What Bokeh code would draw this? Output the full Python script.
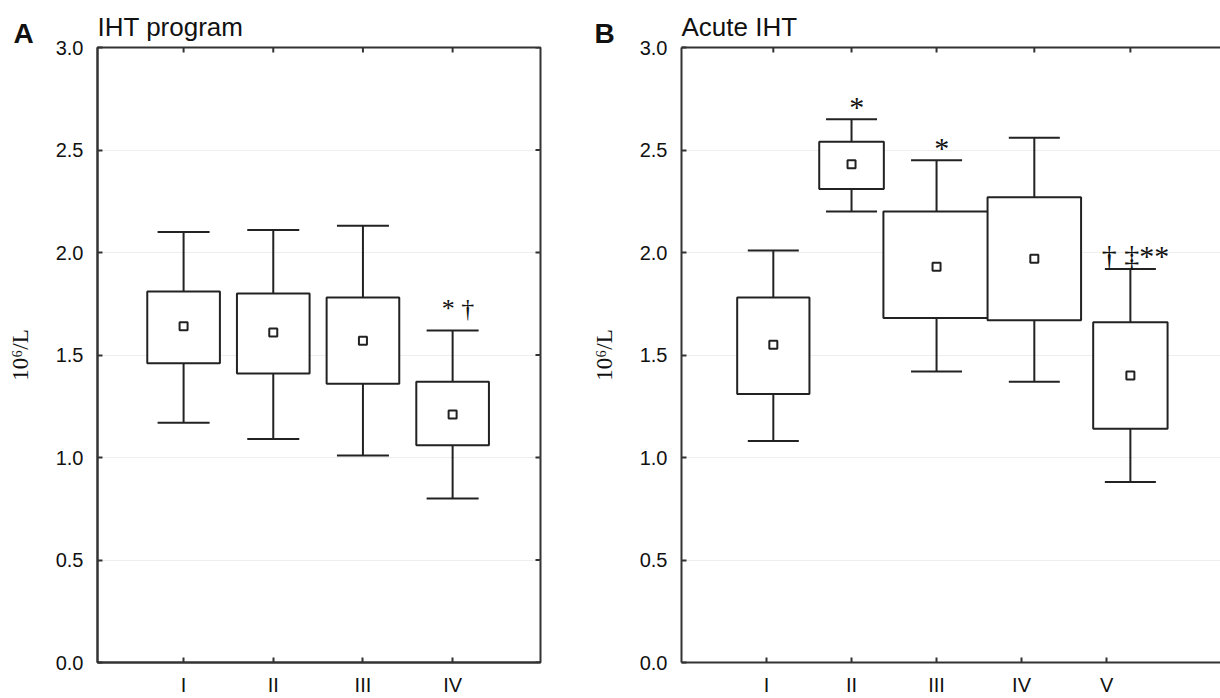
import math
from bokeh.plotting import figure
from bokeh.layouts import row
from bokeh.models import (FixedTicker, LinearAxis, Title, Range1d, ColumnDataSource,
                          PrintfTickFormatter)
from bokeh.embed import file_html
from bokeh.resources import INLINE
from bokeh.core.properties import value

# ---------------- data ----------------
a_groups = ["I", "II", "III", "IV"]
a_center = [1, 2, 3, 4]
a_low = [1.17, 1.09, 1.01, 0.80]
a_q1 = [1.46, 1.41, 1.36, 1.06]
a_mean = [1.64, 1.61, 1.57, 1.21]
a_q3 = [1.81, 1.80, 1.78, 1.37]
a_high = [2.10, 2.11, 2.13, 1.62]
a_marks = ["", "", "", "* \u2020"]

b_groups = ["I", "II", "III", "IV", "V"]
b_center = [1.08, 2.0, 3.0, 4.15, 5.28]
b_width = [0.85, 0.76, 1.25, 1.10, 0.875]
b_low = [1.08, 2.20, 1.42, 1.37, 0.88]
b_q1 = [1.31, 2.31, 1.68, 1.67, 1.14]
b_mean = [1.55, 2.43, 1.93, 1.97, 1.40]
b_q3 = [1.78, 2.54, 2.20, 2.27, 1.66]
b_high = [2.01, 2.65, 2.45, 2.56, 1.92]
b_marks = ["", "*", "*", "", "\u2020 \u2021**"]

y_ticks = [0.0, 0.5, 1.0, 1.5, 2.0, 2.5, 3.0]

SANS = "Liberation Sans"
SERIF = "Liberation Serif"
INK = "#222222"
FRAME = "#333333"
FIG_H = 698
B_TOP, B_BOTTOM = 47, 35


def style_axis(ax):
    ax.axis_line_color = FRAME
    ax.axis_line_width = 2
    ax.major_tick_in = 5
    ax.major_tick_out = 0
    ax.major_tick_line_color = FRAME
    ax.major_tick_line_width = 2
    ax.minor_tick_line_color = None
    ax.major_label_text_font = SANS
    ax.major_label_text_color = "#111111"
    ax.major_label_text_font_size = "20px"


def make_panel(title, letter, groups, centers, widths, low, q1, mean, q3, high,
               marks, xr, width, bl, br, cap_w, mark_off, mark_dx, mark_size,
               letter_dx, right_frame):
    p = figure(width=width, height=FIG_H, output_backend="svg", toolbar_location=None,
               x_range=Range1d(*xr), y_range=Range1d(0, 3.0),
               min_border_left=bl, min_border_right=br, min_border_top=B_TOP,
               min_border_bottom=B_BOTTOM)
    p.background_fill_color = "white"
    p.border_fill_color = "white"

    p.xgrid.grid_line_color = None
    p.ygrid.grid_line_color = "#eeeeee"
    p.ygrid.grid_line_width = 1
    p.ygrid.ticker = FixedTicker(ticks=y_ticks)

    tick_pos = list(range(1, len(groups) + 1))
    xax = p.below[0]
    xax.ticker = FixedTicker(ticks=tick_pos)
    xax.major_label_overrides = {t: g for t, g in zip(tick_pos, groups)}
    style_axis(xax)
    xax.major_label_standoff = 11

    yax = p.left[0]
    yax.ticker = FixedTicker(ticks=y_ticks)
    yax.formatter = PrintfTickFormatter(format="%.1f")
    style_axis(yax)
    yax.major_label_standoff = 14
    yax.axis_label = "10\u2076/L"
    yax.axis_label_text_font = SERIF
    yax.axis_label_text_font_style = "normal"
    yax.axis_label_text_font_size = "23px"
    yax.axis_label_text_color = "#111111"
    yax.axis_label_standoff = 20

    if right_frame:
        p.outline_line_color = FRAME
        p.outline_line_width = 2
    else:
        p.outline_line_color = None
        top_line = LinearAxis(ticker=FixedTicker(ticks=[]))
        top_line.axis_line_color = FRAME
        top_line.axis_line_width = 2
        top_line.major_tick_line_color = None
        top_line.minor_tick_line_color = None
        top_line.major_label_standoff = 0
        p.add_layout(top_line, "above")

    # panel letter (inner title row) and panel title (outer row, pulled down)
    let = Title(text=letter, align="left", offset=-letter_dx, standoff=-2,
                text_font=SANS, text_font_style="bold", text_font_size="28px",
                text_color="#111111")
    p.add_layout(let, "above")
    p.title.text = title
    p.title.text_font = SANS
    p.title.text_font_size = "26px"
    p.title.text_font_style = "normal"
    p.title.text_color = "#111111"
    p.title.align = "left"
    p.title.offset = 0
    p.title.standoff = -50

    # inward ticks mirrored on top (and right), clipped to the frame
    p.scatter(x=centers, y=[3.0] * len(centers), marker="dash", angle=math.pi / 2,
              size=10, line_color=FRAME, line_width=2)
    if right_frame:
        p.scatter(x=[xr[1]] * len(y_ticks), y=y_ticks, marker="dash", size=10,
                  line_color=FRAME, line_width=2)

    src = ColumnDataSource(dict(
        x=centers,
        left=[c - w / 2 for c, w in zip(centers, widths)],
        right=[c + w / 2 for c, w in zip(centers, widths)],
        cl=[c - cap_w / 2 for c in centers],
        cr=[c + cap_w / 2 for c in centers],
        tx=[c + mark_dx for c in centers],
        low=low, q1=q1, mean=mean, q3=q3, high=high, marks=marks,
    ))
    p.segment(x0="x", y0="q3", x1="x", y1="high", source=src, line_color=INK, line_width=2)
    p.segment(x0="x", y0="low", x1="x", y1="q1", source=src, line_color=INK, line_width=2)
    p.segment(x0="cl", y0="high", x1="cr", y1="high", source=src, line_color=INK, line_width=2)
    p.segment(x0="cl", y0="low", x1="cr", y1="low", source=src, line_color=INK, line_width=2)
    p.quad(left="left", right="right", bottom="q1", top="q3", source=src,
           fill_color="white", line_color=INK, line_width=2)
    p.scatter(x="x", y="mean", source=src, marker="square", size=8,
              fill_color="white", line_color=INK, line_width=2)
    p.text(x="tx", y="high", text="marks", source=src, text_align="center",
           text_baseline="alphabetic", y_offset=-mark_off,
           text_font=value(SERIF), text_font_size=mark_size, text_color="#111111")
    return p


pa = make_panel("IHT program", "A", a_groups, a_center, [0.81] * 4,
                a_low, a_q1, a_mean, a_q3, a_high, a_marks,
                (0.04, 4.98), 588, 97, 48, 0.58, 22, 0.06, "26px", 84, True)
pb = make_panel("Acute IHT", "B", b_groups, b_center, b_width,
                b_low, b_q1, b_mean, b_q3, b_high, b_marks,
                (0.0, 6.34), 632, 89, 0, 0.6, 13, 0.06, "30px", 87, False)

layout = row(pa, pb)
open("out.html", "w").write(file_html(layout, INLINE))
